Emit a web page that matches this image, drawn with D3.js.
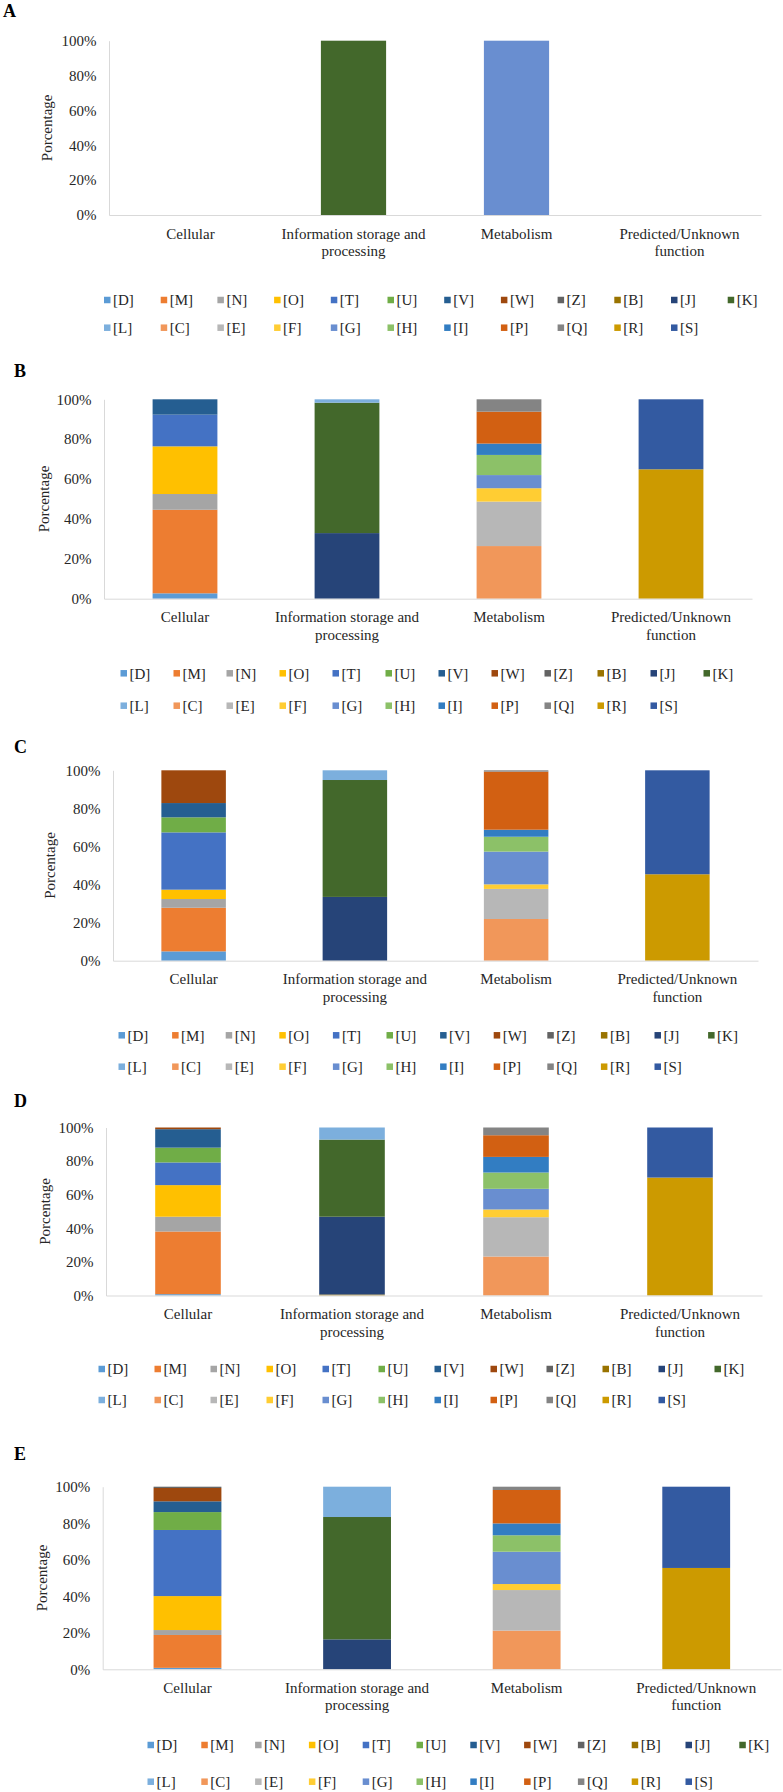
<!DOCTYPE html>
<html>
<head>
<meta charset="utf-8">
<script src="https://cdn.jsdelivr.net/npm/d3@7"></script>
<style>
  body { margin: 0; background: #fff; }
  svg text { font-family: "Liberation Serif", "Times New Roman", serif; fill: #262626; }
  .axis path { stroke: #d9d9d9; }
</style>
</head>
<body>
<svg id="chart" width="783" height="1792"></svg>
<script>
const categories = ["Cellular", "Information storage and processing", "Metabolism", "Predicted/Unknown function"];
const categoryLines = [["Cellular"], ["Information storage and", "processing"], ["Metabolism"], ["Predicted/Unknown", "function"]];
const codes = ["D", "M", "N", "O", "T", "U", "V", "W", "Z", "B", "J", "K",
               "L", "C", "E", "F", "G", "H", "I", "P", "Q", "R", "S"];
const colors = ["#5b9bd5", "#ed7d31", "#a5a5a5", "#ffc000", "#4472c4", "#70ad47", "#255e91", "#9e480e", "#636363", "#997300", "#264478", "#43682b",
                "#7cafdd", "#f1975a", "#b7b7b7", "#ffcd33", "#698ed0", "#8cc168", "#327dc2", "#d26012", "#848484", "#cc9a00", "#335aa1"];
const yTicks = [0, 20, 40, 60, 80, 100];
const panels = ["A", "B", "C", "D", "E"];

// values in % per category, same order as codes
//              D    M     N    O     T     U    V     W     Z    B    J     K     L     C     E     F    G     H     I    P     Q    R     S
const aCellular = [0, 0, 0, 0, 0, 0, 0, 0, 0, 0, 0, 0, 0, 0, 0, 0, 0, 0, 0, 0, 0, 0, 0];
const aInfo     = [0, 0, 0, 0, 0, 0, 0, 0, 0, 0, 0, 100, 0, 0, 0, 0, 0, 0, 0, 0, 0, 0, 0];
const aMetab    = [0, 0, 0, 0, 0, 0, 0, 0, 0, 0, 0, 0, 0, 0, 0, 0, 100, 0, 0, 0, 0, 0, 0];
const aPred     = [0, 0, 0, 0, 0, 0, 0, 0, 0, 0, 0, 0, 0, 0, 0, 0, 0, 0, 0, 0, 0, 0, 0];

const bCellular = [2.7, 41.9, 7.9, 23.9, 15.9, 0, 7.7, 0, 0, 0, 0, 0, 0, 0, 0, 0, 0, 0, 0, 0, 0, 0, 0];
const bInfo     = [0, 0, 0, 0, 0, 0, 0, 0, 0, 0, 32.9, 65.4, 1.7, 0, 0, 0, 0, 0, 0, 0, 0, 0, 0];
const bMetab    = [0, 0, 0, 0, 0, 0, 0, 0, 0, 0, 0, 0, 0, 26.4, 22.3, 6.7, 6.6, 10.1, 5.7, 16.0, 6.2, 0, 0];
const bPred     = [0, 0, 0, 0, 0, 0, 0, 0, 0, 0, 0, 0, 0, 0, 0, 0, 0, 0, 0, 0, 0, 64.9, 35.1];

const cCellular = [4.9, 22.9, 4.6, 4.9, 30.1, 7.9, 7.5, 17.2, 0, 0, 0, 0, 0, 0, 0, 0, 0, 0, 0, 0, 0, 0, 0];
const cInfo     = [0, 0, 0, 0, 0, 0, 0, 0, 0, 0, 33.5, 61.4, 5.1, 0, 0, 0, 0, 0, 0, 0, 0, 0, 0];
const cMetab    = [0, 0, 0, 0, 0, 0, 0, 0, 0, 0, 0, 0, 0, 21.9, 15.8, 2.4, 17.2, 7.8, 3.7, 30.5, 0.7, 0, 0];
const cPred     = [0, 0, 0, 0, 0, 0, 0, 0, 0, 0, 0, 0, 0, 0, 0, 0, 0, 0, 0, 0, 0, 45.4, 54.6];

const dCellular = [0.8, 37.3, 8.8, 18.8, 13.5, 8.8, 11.0, 1.0, 0, 0, 0, 0, 0, 0, 0, 0, 0, 0, 0, 0, 0, 0, 0];
const dInfo     = [0, 0, 0, 0, 0, 0, 0, 0, 0, 0.6, 46.3, 45.9, 7.2, 0, 0, 0, 0, 0, 0, 0, 0, 0, 0];
const dMetab    = [0, 0, 0, 0, 0, 0, 0, 0, 0, 0, 0, 0, 0, 23.2, 23.4, 4.6, 12.3, 9.7, 9.3, 12.9, 4.6, 0, 0];
const dPred     = [0, 0, 0, 0, 0, 0, 0, 0, 0, 0, 0, 0, 0, 0, 0, 0, 0, 0, 0, 0, 0, 70.2, 29.8];

const eCellular = [0.8, 18.0, 2.7, 18.6, 36.2, 9.8, 5.9, 7.3, 0.7, 0, 0, 0, 0, 0, 0, 0, 0, 0, 0, 0, 0, 0, 0];
const eInfo     = [0, 0, 0, 0, 0, 0, 0, 0, 0, 0, 16.4, 67.0, 16.6, 0, 0, 0, 0, 0, 0, 0, 0, 0, 0];
const eMetab    = [0, 0, 0, 0, 0, 0, 0, 0, 0, 0, 0, 0, 0, 21.2, 22.2, 3.3, 17.7, 9.0, 6.5, 18.3, 1.8, 0, 0];
const ePred     = [0, 0, 0, 0, 0, 0, 0, 0, 0, 0, 0, 0, 0, 0, 0, 0, 0, 0, 0, 0, 0, 55.5, 44.5];

const panelValues = [
    [aCellular, aInfo, aMetab, aPred],
    [bCellular, bInfo, bMetab, bPred],
    [cCellular, cInfo, cMetab, cPred],
    [dCellular, dInfo, dMetab, dPred],
    [eCellular, eInfo, eMetab, ePred]
];

// where each panel sits on the page
const layout = [
    { x0: 109, x1: 761, top: 40.7, bottom: 215, titleX: 47, legX: 104, legStep: 56.7, legY: [300, 327.7], lx: 3, ly: 17 },
    { x0: 104, x1: 752, top: 399.3, bottom: 598.7, titleX: 44, legX: 120.5, legStep: 53, legY: [673.3, 705.7], lx: 14, ly: 377 },
    { x0: 113, x1: 758, top: 770.3, bottom: 960.7, titleX: 50, legX: 118.5, legStep: 53.6, legY: [1035.3, 1066.7], lx: 14, ly: 753 },
    { x0: 106, x1: 762, top: 1127.5, bottom: 1295.5, titleX: 45, legX: 98.5, legStep: 56, legY: [1369, 1400], lx: 14, ly: 1107 },
    { x0: 102.7, x1: 781, top: 1486.7, bottom: 1669.3, titleX: 41.7, legX: 147.5, legStep: 53.8, legY: [1745, 1781.7], lx: 14, ly: 1460 }
];

const svg = d3.select("#chart");
const color = d3.scaleOrdinal().domain(codes).range(colors);

panels.forEach((name, p) => {
    const L = layout[p];

    // build a table the stack can use
    let table = categories.map((c, i) => {
        let row = { category: c };
        codes.forEach((k, j) => row[k] = panelValues[p][i][j]);
        return row;
    });
    let series = d3.stack().keys(codes)(table);

    let x = d3.scaleBand()
        .domain(categories)
        .range([L.x0, L.x1])
        .paddingInner(0.6)
        .paddingOuter(0.3);

    let y = d3.scaleLinear()
        .domain([0, 100])
        .range([L.bottom, L.top]);

    let g = svg.append("g");

    // panel letter
    g.append("text")
        .attr("x", L.lx)
        .attr("y", L.ly)
        .attr("font-size", 18)
        .attr("font-weight", "bold")
        .style("fill", "#000")
        .text(name);

    // stacked bars
    g.selectAll(".layer")
        .data(series)
        .enter().append("g")
        .attr("fill", d => color(d.key))
        .selectAll("rect")
        .data(d => d.filter(s => s[1] - s[0] > 0))
        .enter().append("rect")
        .attr("x", d => x(d.data.category))
        .attr("width", x.bandwidth())
        .attr("y", d => y(d[1]))
        .attr("height", d => y(d[0]) - y(d[1]));

    // y axis
    let yAxis = d3.axisLeft(y)
        .tickValues(yTicks)
        .tickFormat(d => d + "%")
        .tickSize(0)
        .tickSizeOuter(0)
        .tickPadding(12.5);

    g.append("g")
        .attr("class", "axis")
        .attr("transform", "translate(" + L.x0 + ",0)")
        .call(yAxis)
        .call(s => s.selectAll("text").attr("font-size", 15).style("font-family", null));

    // x axis
    let xAxis = d3.axisBottom(x)
        .tickSize(0)
        .tickSizeOuter(0)
        .tickPadding(0);

    let xg = g.append("g")
        .attr("class", "axis")
        .attr("transform", "translate(0," + L.bottom + ")")
        .call(xAxis);

    xg.selectAll(".tick text")
        .attr("font-size", 15)
        .style("font-family", null)
        .attr("y", 0)
        .attr("dy", null)
        .each(function(d, i) {
            let t = d3.select(this).text(null);
            categoryLines[i].forEach((line, k) => {
                t.append("tspan")
                    .attr("x", 0)
                    .attr("y", 23.5 + k * 17.5)
                    .text(line);
            });
        });

    // y axis title
    g.append("text")
        .attr("transform", "translate(" + L.titleX + "," + ((L.top + L.bottom) / 2) + ") rotate(-90)")
        .attr("text-anchor", "middle")
        .attr("dy", "0.35em")
        .attr("font-size", 15)
        .text("Porcentage");

    // legend, two rows
    let legend = g.selectAll(".legend")
        .data(codes)
        .enter().append("g")
        .attr("transform", (d, i) => {
            let row = i < 12 ? 0 : 1;
            let col = i < 12 ? i : i - 12;
            return "translate(" + (L.legX + col * L.legStep) + "," + L.legY[row] + ")";
        });

    legend.append("rect")
        .attr("x", 0)
        .attr("y", -3.25)
        .attr("width", 6.5)
        .attr("height", 6.5)
        .attr("fill", d => color(d));

    legend.append("text")
        .attr("x", 9)
        .attr("dy", "0.35em")
        .attr("font-size", 15)
        .text(d => "[" + d + "]");
});
</script>
</body>
</html>
